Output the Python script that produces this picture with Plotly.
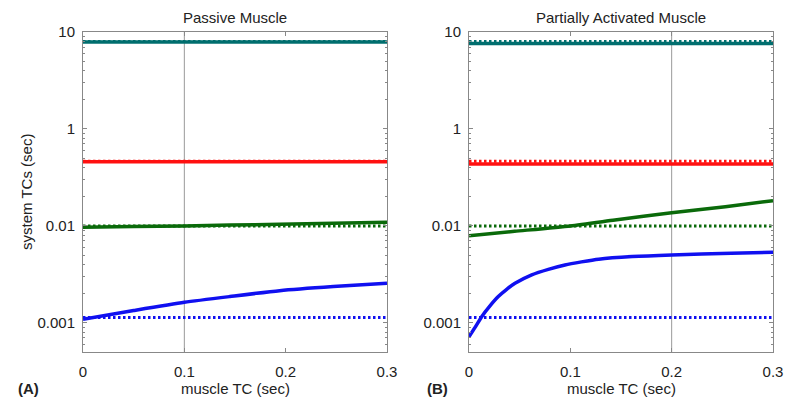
import numpy as np
import plotly.graph_objects as go

# muscle time constant (sec), x-axis
tc_ends = [0.0, 0.3]

# reference (dotted) system time constants, same in both panels
ref_teal = 8.0
ref_red = 0.465
ref_green = 0.1
ref_blue = 0.0114

# passive muscle (panel A)
passive_tc = [0.0, 0.05, 0.1, 0.145, 0.194, 0.247, 0.3]
passive_blue = [0.0109, 0.0134, 0.0163, 0.0187, 0.0215, 0.0237, 0.0256]
passive_green = [0.097, 0.0985, 0.1, 0.102, 0.104, 0.1065, 0.109]
passive_red = 0.46
passive_teal = 7.9

# partially activated muscle (panel B)
active_tc_blue = [0.0, 0.006, 0.0125, 0.0207, 0.0289, 0.0372, 0.0454, 0.0619, 0.0783,
                  0.0947, 0.111, 0.128, 0.161, 0.2, 0.259, 0.3]
active_blue = [0.0072, 0.009, 0.0116, 0.015, 0.0187, 0.0222, 0.0256, 0.0313, 0.0357,
               0.0396, 0.0426, 0.0454, 0.0483, 0.0503, 0.0523, 0.0536]
active_tc_green = [0.0, 0.045, 0.1, 0.144, 0.2, 0.253, 0.3]
active_green = [0.0794, 0.0881, 0.1, 0.115, 0.137, 0.158, 0.182]
active_red = 0.436
active_teal = 7.6

# axis ticks (labels as printed in the figure)
x_ticks = [0, 0.1, 0.2, 0.3]
y_tickvals = [10, 1, 0.1, 0.01]
y_ticktext = ["10", "1", "0.01", "0.001"]
grid_x = [0.1, 0.2]

TEAL = "#006e6e"
RED = "#ff1010"
GREEN = "#0a6a0a"
BLUE = "#1010f0"
FONT = "Liberation Sans, Arial, sans-serif"

# page body has an 8px margin, so the figure is a bit smaller than the window
W, H, OFF = 784, 397, 8

def px(x):
    return (x - OFF) / W

def py(y):
    return 1 - (y - OFF) / H

fig = go.Figure()

def add_panel(xa, ya, solids, gx):
    # vertical gray grid line
    fig.add_trace(go.Scatter(x=[gx, gx], y=[10 ** -2.3, 10], mode="lines",
                             line=dict(color="#999999", width=1),
                             xaxis=xa, yaxis=ya, showlegend=False, hoverinfo="skip"))
    for xs, ys, col in solids:
        fig.add_trace(go.Scatter(x=xs, y=ys, mode="lines",
                                 line=dict(color=col, width=3.5, shape="spline", smoothing=0.6),
                                 xaxis=xa, yaxis=ya, showlegend=False))
    for val, col in [(ref_teal, TEAL), (ref_red, RED), (ref_green, GREEN), (ref_blue, BLUE)]:
        fig.add_trace(go.Scatter(x=tc_ends, y=[val, val], mode="lines",
                                 line=dict(color=col, width=3, dash="2.5px,2.5px"),
                                 xaxis=xa, yaxis=ya, showlegend=False))

add_panel("x", "y", [
    (tc_ends, [passive_teal] * 2, TEAL),
    (tc_ends, [passive_red] * 2, RED),
    (passive_tc, passive_green, GREEN),
    (passive_tc, passive_blue, BLUE),
], grid_x[0])

add_panel("x2", "y2", [
    (tc_ends, [active_teal] * 2, TEAL),
    (tc_ends, [active_red] * 2, RED),
    (active_tc_green, active_green, GREEN),
    (active_tc_blue, active_blue, BLUE),
], grid_x[1])

minor_vals = [m * 10.0 ** e for e in range(-3, 1) for m in range(2, 10)]

xcommon = dict(range=[0, 0.3], tickvals=x_ticks, ticktext=["0", "0.1", "0.2", "0.3"],
               ticks="inside", ticklen=4, tickcolor="#888888", showline=True,
               linecolor="#888888", linewidth=1, mirror="ticks", showgrid=False,
               zeroline=False, ticklabelstandoff=6, automargin=False,
               tickfont=dict(family=FONT, size=15, color="#222222"))
ycommon = dict(type="log", range=[-2.3, 1.0], tickvals=y_tickvals, ticktext=y_ticktext,
               ticks="inside", ticklen=4, tickcolor="#888888", showline=True,
               linecolor="#888888", linewidth=1, mirror="ticks", showgrid=False,
               zeroline=False, ticklabelstandoff=4, automargin=False,
               minor=dict(tickmode="array", tickvals=minor_vals, ticks="inside",
                          ticklen=2, tickcolor="#888888", showgrid=False),
               tickfont=dict(family=FONT, size=15, color="#222222"))

fig.update_layout(
    width=W, height=H,
    margin=dict(l=0, r=0, t=0, b=0, pad=0, autoexpand=False),
    paper_bgcolor="white", plot_bgcolor="white",
    xaxis=dict(domain=[px(83), px(387)], anchor="y", **xcommon),
    yaxis=dict(domain=[py(352), py(32)], anchor="x", **ycommon),
    xaxis2=dict(domain=[px(469), px(773)], anchor="y2", **xcommon),
    yaxis2=dict(domain=[py(352), py(32)], anchor="x2", **ycommon),
)

txt = dict(family=FONT, size=15, color="#222222")
notes = [
    ("Passive Muscle", 235, 17, 0),
    ("Partially Activated Muscle", 621, 17, 0),
    ("muscle TC (sec)", 235, 388, 0),
    ("muscle TC (sec)", 621, 388, 0),
    ("system TCs (sec)", 26, 192, -90),
    ("<b>(A)</b>", 28, 388, 0),
    ("<b>(B)</b>", 437, 388, 0),
]
for text, ax_, ay_, ang in notes:
    fig.add_annotation(text=text, x=px(ax_), y=py(ay_), xref="paper", yref="paper",
                       xanchor="center", yanchor="middle", showarrow=False,
                       textangle=ang, font=txt, borderpad=0)

fig.write_html("out.html")
